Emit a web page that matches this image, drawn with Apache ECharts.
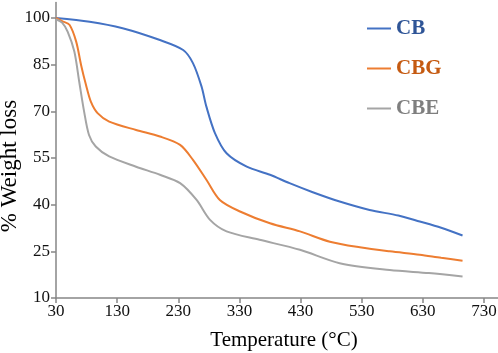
<!DOCTYPE html>
<html>
<head>
<meta charset="utf-8">
<script src="https://cdn.jsdelivr.net/npm/echarts@6/dist/echarts.min.js"></script>
<style>html,body{margin:0;padding:0;background:#fff}#c{width:498px;height:353px}</style>
</head>
<body>
<div id="c"></div>
<script>
var seriesNames = ['CB', 'CBG', 'CBE'];
var cbTemp = [30, 85, 139, 200, 238, 254, 268, 276, 290, 309, 342, 380, 412, 450, 494, 543, 590, 625, 660, 695];
var cbLoss = [100, 98.8, 96.7, 92.9, 89.7, 85.5, 78, 71.5, 63, 56.5, 52.2, 49.6, 46.9, 44, 41, 38.3, 36.5, 34.6, 32.6, 30.1];
var cbgTemp = [30, 40, 52, 63, 71, 79, 87, 98, 117, 161, 200, 233, 254, 276, 298, 331, 380, 429, 478, 527, 576, 625, 660, 695];
var cbgLoss = [100, 99, 97.8, 92.4, 84.9, 78.5, 73.1, 69.4, 66.7, 64, 61.9, 59.2, 54.4, 48, 41.5, 37.8, 34, 31.4, 28.1, 26.3, 25, 23.9, 22.9, 22];
var cbeTemp = [30, 40, 49, 60, 68, 76, 84, 95, 117, 161, 200, 233, 260, 282, 309, 363, 429, 494, 576, 640, 695];
var cbeLoss = [99.6, 98.5, 95.6, 89.2, 79.5, 69.9, 62.4, 58.7, 55.5, 52.2, 49.6, 46.9, 41.5, 35.1, 31.4, 28.7, 25.5, 21.2, 19, 18, 16.9];
var xTicks = [30, 130, 230, 330, 430, 530, 630, 730];
var yTicks = [10, 25, 40, 55, 70, 85, 100];
var xTitle = 'Temperature (°C)';
var yTitle = '% Weight loss';
var lineColors = ['#4472C4', '#ED7D31', '#A5A5A5'];
var legendColors = ['#2F5597', '#C55A11', '#7F7F7F'];

function pairs(xs, ys) { return xs.map(function (x, i) { return [x, ys[i]]; }); }
var dataSets = [pairs(cbTemp, cbLoss), pairs(cbgTemp, cbgLoss), pairs(cbeTemp, cbeLoss)];
var serif = 'Liberation Serif';
var axisCol = '#868686';

var chart = echarts.init(document.getElementById('c'));
chart.setOption({
  animation: false,
  backgroundColor: '#fff',
  grid: { left: 56, right: 0, top: 2.4, bottom: 55, containLabel: false, outerBoundsMode: 'none' },
  graphic: [{
    type: 'text', x: 10, y: 166, rotation: Math.PI / 2,
    style: { text: yTitle, font: '23px "Liberation Serif"', fill: '#000', align: 'center', verticalAlign: 'middle' }
  }],
  legend: {
    orient: 'vertical', left: 362, top: 13,
    itemWidth: 24, itemHeight: 2, itemGap: 19, icon: 'rect',
    textStyle: { fontFamily: serif, fontWeight: 'bold', fontSize: 21 },
    data: seriesNames.map(function (n, i) {
      return { name: n, textStyle: { color: legendColors[i] } };
    })
  },
  xAxis: {
    type: 'value', min: 30, max: 753,
    name: xTitle, nameLocation: 'middle', nameGap: 32,
    nameTextStyle: { fontFamily: serif, fontSize: 21, color: '#000', padding: [0, 0, 0, 14] },
    axisLine: { lineStyle: { color: axisCol, width: 1.5 } },
    axisTick: { show: true, length: 5, customValues: xTicks, lineStyle: { color: axisCol, width: 1.5 } },
    axisLabel: { customValues: xTicks, fontFamily: serif, fontSize: 17, color: '#111', margin: 5 },
    splitLine: { show: false }
  },
  yAxis: {
    type: 'value', min: 10, max: 105,
    axisLine: { show: true, lineStyle: { color: axisCol, width: 1.5 } },
    axisTick: { show: true, length: 5, customValues: yTicks, lineStyle: { color: axisCol, width: 1.5 } },
    axisLabel: { customValues: yTicks, fontFamily: serif, fontSize: 17, color: '#111', margin: 6 },
    splitLine: { show: false }
  },
  series: seriesNames.map(function (n, i) {
    return {
      name: n, type: 'line', data: dataSets[i],
      smooth: 0.3, showSymbol: false, symbol: 'none',
      lineStyle: { color: lineColors[i], width: 2 },
      itemStyle: { color: lineColors[i] }
    };
  })
});
</script>
</body>
</html>
